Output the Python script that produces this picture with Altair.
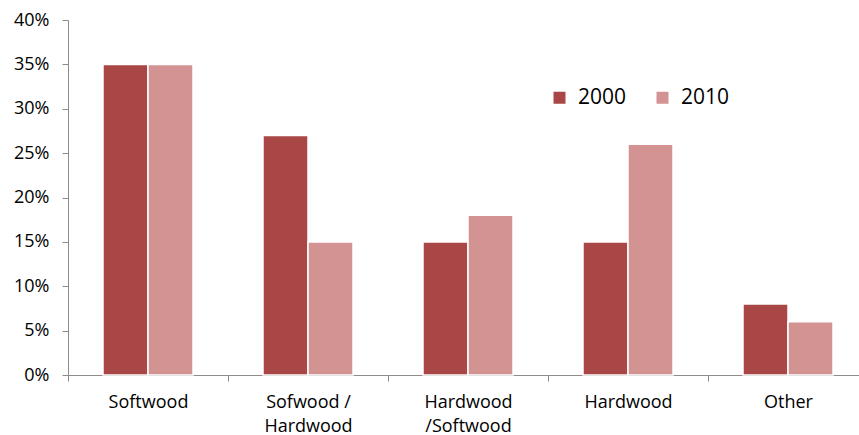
import altair as alt
import pandas as pd

categories = ["Softwood", "Sofwood /\nHardwood", "Hardwood\n/Softwood", "Hardwood", "Other"]
years = ["2000", "2010"]
values_2000 = [0.35, 0.27, 0.15, 0.15, 0.08]
values_2010 = [0.35, 0.15, 0.18, 0.26, 0.06]
colors = ["#A94646", "#D39392"]
y_ticks = [0, 0.05, 0.10, 0.15, 0.20, 0.25, 0.30, 0.35, 0.40]

rows = []
for c, a, b in zip(categories, values_2000, values_2010):
    rows.append({"category": c, "year": years[0], "share": a})
    rows.append({"category": c, "year": years[1], "share": b})
df = pd.DataFrame(rows)

FONT = "Open Sans"

chart = (
    alt.Chart(df)
    .mark_bar(stroke="white", strokeWidth=1.5)
    .encode(
        x=alt.X(
            "category:N",
            sort=categories,
            scale=alt.Scale(range=[0, 800], paddingInner=0.4375, paddingOuter=0.21875),
            axis=alt.Axis(
                title=None,
                labelAngle=0,
                tickOffset=-80,
                labelOffset=80,
                labelExpr="split(datum.label, '\\n')",
                labelFont=FONT,
                labelFontSize=18,
                labelColor="#000000",
                labelLineHeight=24,
                labelPadding=12,
                labelBaseline="top",
                domainColor="#8c8c8c",
                tickColor="#8c8c8c",
                tickSize=6,
            ),
        ),
        xOffset=alt.XOffset("year:N", sort=years, scale=alt.Scale(paddingInner=0, paddingOuter=0)),
        y=alt.Y(
            "share:Q",
            scale=alt.Scale(domain=[0, 0.4], nice=False),
            axis=alt.Axis(
                title=None,
                values=y_ticks,
                format=".0%",
                grid=False,
                labelFont=FONT,
                labelFontSize=18,
                labelColor="#000000",
                labelPadding=13,
                domainColor="#8c8c8c",
                tickColor="#8c8c8c",
                tickSize=6,
            ),
        ),
        color=alt.Color(
            "year:N",
            sort=years,
            scale=alt.Scale(domain=years, range=colors),
            legend=alt.Legend(
                title=None,
                orient="none",
                legendX=481,
                legendY=67,
                direction="horizontal",
                symbolType="square",
                symbolSize=144,
                symbolStrokeWidth=0,
                labelFont=FONT,
                labelFontSize=21,
                labelColor="#000000",
                labelOffset=8,
                columnPadding=25,
            ),
        ),
    )
    .properties(
        width=791,
        height=355,
        background="white",
        autosize=alt.AutoSizeParams(type="none"),
        padding={"left": 68, "top": 20, "right": 0, "bottom": 60},
    )
    .configure_view(strokeWidth=0, stroke="transparent")
)

chart.save("out.html", embed_options={"renderer": "svg", "actions": False})
